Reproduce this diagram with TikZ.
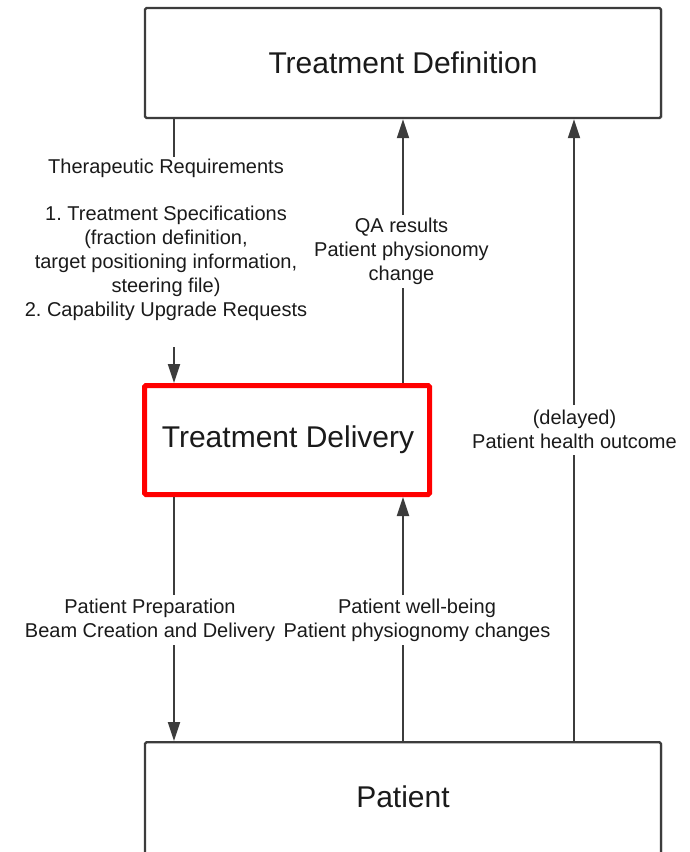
\documentclass[tikz,border=0pt]{standalone}
\usepackage{fontspec}
\setmainfont{Liberation Sans}
\usetikzlibrary{arrows.meta,shadows}
\frenchspacing

\definecolor{linegray}{HTML}{3C3C3C}
\definecolor{textdark}{HTML}{1A1A1A}

\tikzset{
  block/.style={draw=linegray, line width=2.4pt, rounded corners=1.5pt, fill=white,
    drop shadow={shadow xshift=1.5pt, shadow yshift=-1pt, opacity=0.25},
    text=textdark, font=\fontsize{30}{36}\selectfont, inner sep=0pt},
  focus/.style={block, draw=red, line width=5pt},
  flowlabel/.style={text=textdark, align=center, inner sep=0pt,
    font=\fontsize{20}{24}\selectfont},
  link/.style={draw=linegray, line width=2pt},
  arrow/.style={link, -{Triangle[length=19pt,width=12pt]}},
}

\begin{document}
\begin{tikzpicture}[x=1pt,y=-1pt]
  \useasboundingbox (0,0) rectangle (690,852);

  % the three stages
  \node[block, minimum width=516pt, minimum height=110pt] (def) at (403,63) {Treatment Definition};
  \node[focus, minimum width=285pt, minimum height=109pt] (del) at (287,440) {};
  \node[text=textdark, font=\fontsize{30}{36}\selectfont] (deltext) at (288,440) {Treatment Delivery};
  \node[block, minimum width=516pt, minimum height=160pt, anchor=north] (pat) at (403,741) {};
  \node[text=textdark, font=\fontsize{30}{36}\selectfont] (pattext) at (403,797) {Patient};

  % labels on the flows
  \node[flowlabel] (req) at (166,168) {Therapeutic Requirements};
  \node[flowlabel] (spec) at (166,263) {1. Treatment Specifications\\(fraction definition,\\target positioning information,\\steering file)\\2. Capability Upgrade Requests};
  \node[flowlabel] (qa) at (401.5,251.5) {QA results\\Patient physionomy\\change};
  \node[flowlabel] (outcome) at (574.5,429.5) {(delayed)\\Patient health outcome};
  \node[flowlabel] (prep) at (150,620) {Patient Preparation\\Beam Creation and Delivery};
  \node[flowlabel] (well) at (417,620) {Patient well-being\\Patient physiognomy changes};

  % gap ends of the broken connectors
  \coordinate (reqA) at (174,157);
  \coordinate (reqB) at (174,347);
  \coordinate (qaA) at (403,288);
  \coordinate (qaB) at (403,215);
  \coordinate (outA) at (574,455);
  \coordinate (outB) at (574,405);
  \coordinate (prepA) at (174,595);
  \coordinate (prepB) at (174,645);
  \coordinate (wellA) at (403,645);
  \coordinate (wellB) at (403,595);

  % definition -> delivery
  \draw[link] (def.south -| reqA) -- (reqA);
  \draw[arrow] (reqB) -- (reqB |- del.north);
  % delivery -> definition
  \draw[link] (del.north -| qaA) -- (qaA);
  \draw[arrow] (qaB) -- (qaB |- def.south);
  % patient -> definition
  \draw[link] (pat.north -| outA) -- (outA);
  \draw[arrow] (outB) -- (outB |- def.south);
  % delivery -> patient
  \draw[link] (del.south -| prepA) -- (prepA);
  \draw[arrow] (prepB) -- (prepB |- pat.north);
  % patient -> delivery
  \draw[link] (pat.north -| wellA) -- (wellA);
  \draw[arrow] (wellB) -- (wellB |- del.south);
\end{tikzpicture}
\end{document}
